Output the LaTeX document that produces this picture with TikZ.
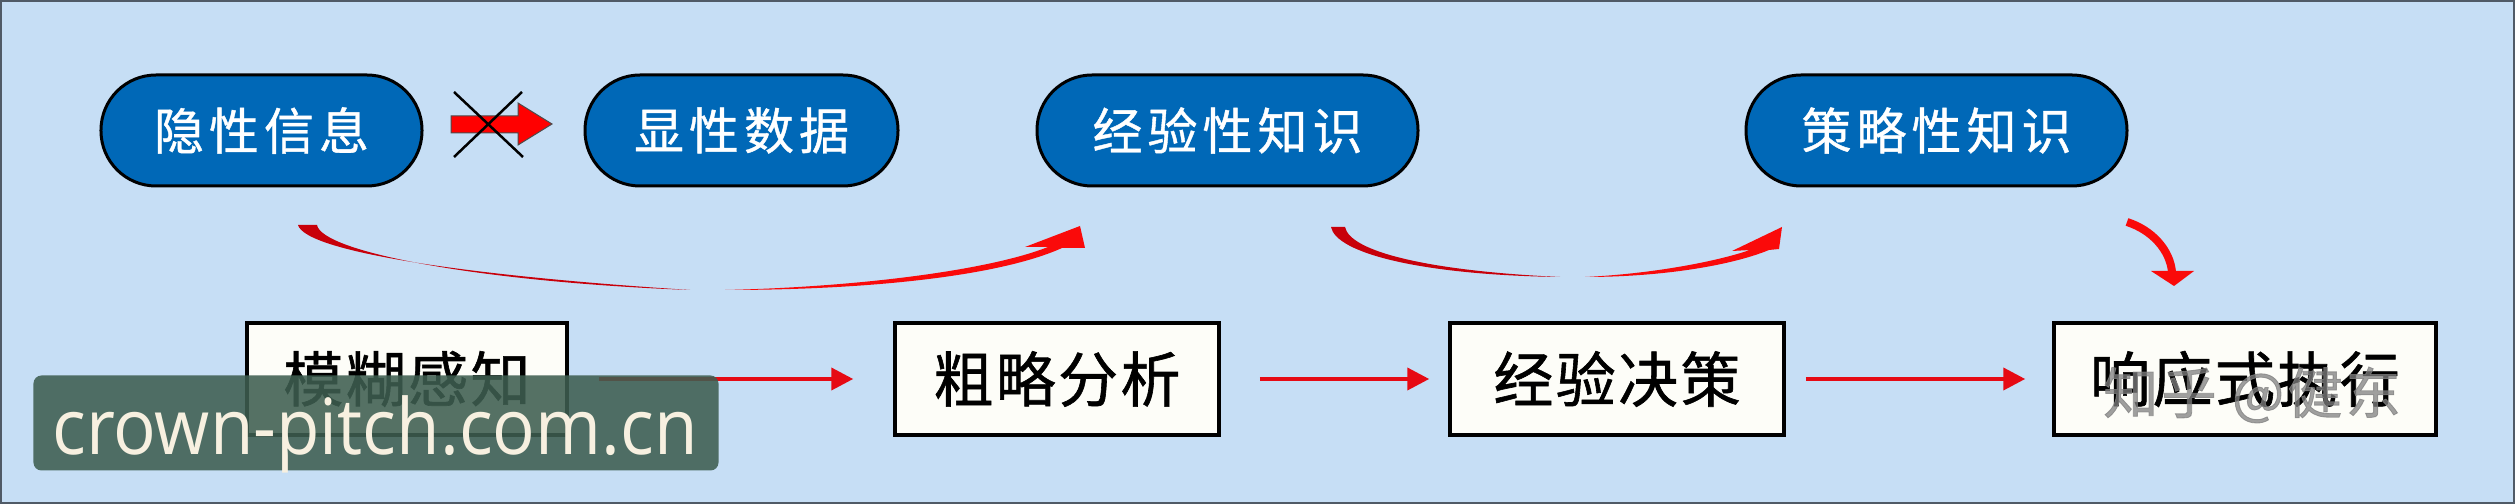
\documentclass[tikz,border=0pt]{standalone}
\usepackage{fontspec}
\usetikzlibrary{arrows.meta}
\setmainfont{Noto Sans CJK SC}
\newfontfamily\pillcjk[LetterSpace=10,FakeBold=0.8]{Noto Sans CJK SC}
\newfontfamily\boxcjk[LetterSpace=4,FakeBold=1]{Noto Sans CJK SC}
\newfontfamily\wmcjk[LetterSpace=6,FakeBold=1.5]{Noto Sans CJK SC}
\newfontfamily\wmlatin{Open Sans}
\definecolor{bgblue}{RGB}{198,222,245}
\definecolor{pillblue}{RGB}{0,104,183}
\definecolor{boxwhite}{RGB}{253,253,248}
\definecolor{linkred}{RGB}{230,10,20}
\definecolor{arcdark}{RGB}{200,0,10}
\definecolor{arcred}{RGB}{250,10,10}
\definecolor{wmgreen}{RGB}{62,94,80}
\definecolor{wmcream}{RGB}{247,240,224}
\definecolor{framegray}{RGB}{80,90,102}
\begin{document}
\begin{tikzpicture}[x=0.4pt,y=-0.4pt,
  pill/.style={draw=black, line width=1.2pt, fill=pillblue, rounded corners=22pt,
    minimum height=44.4pt, inner sep=0pt, text=white,
    font=\pillcjk\fontsize{20pt}{24pt}\selectfont},
  stepbox/.style={draw=black, line width=1.4pt, fill=boxwhite, minimum height=44.8pt,
    inner sep=0pt, text=black, font=\boxcjk\fontsize{24pt}{28pt}\selectfont},
  link/.style={draw=linkred, line width=1.6pt, -{Triangle[length=8.8pt,width=8.8pt]}},
]
\fill[bgblue] (0,0) rectangle (2515,504);
\useasboundingbox (0,0) rectangle (2515,504);
\draw[framegray, line width=0.8pt] (1,1) rectangle (2514,503);

% top pills
\node[pill, minimum width=128.4pt] (p1) at (261.5,130.5) {隐性信息};
\node[pill, minimum width=125.2pt] (p2) at (741.5,130.5) {显性数据};
\node[pill, minimum width=152.4pt] (p3) at (1227.5,130.5) {经验性知识};
\node[pill, minimum width=152.4pt] (p4) at (1936.5,130.5) {策略性知识};

% crossed block arrow
\filldraw[fill=red, draw=black!70, line width=0.4pt]
  (451,116) -- (518,116) -- (518,103) -- (552,124) -- (518,145) -- (518,133) -- (451,133) -- cycle;
\draw[black, line width=1pt] (454,92) -- (523,157) (522,92) -- (454,157);

% bottom boxes
\node[stepbox, minimum width=128pt] (b1) at (407,379) {模糊感知};
\node[stepbox, minimum width=129.6pt] (b2) at (1057,379) {粗略分析};
\node[stepbox, minimum width=133.6pt] (b3) at (1617,379) {经验决策};
\node[stepbox, minimum width=152.8pt] (b4) at (2245,379) {响应式执行};

% straight arrows
\draw[link, shorten <=12pt, shorten >=16pt] (b1.east) -- (b2.west);
\draw[link, shorten <=15.6pt, shorten >=7.6pt] (b2.east) -- (b3.west);
\draw[link, shorten <=8pt, shorten >=10.8pt] (b3.east) -- (b4.west);

% curved arrow 1
\fill[arcdark] (298,225) .. controls (306,252) and (470,276) .. (690,290)
  .. controls (480,282) and (322,252) .. (317,225) -- cycle;
\fill[arcred] (725,290) .. controls (870,290) and (1000,276) .. (1062,248)
  -- (1085,248) -- (1080,226) -- (1025,247) -- (1048,247)
  .. controls (990,270) and (860,287) .. (725,290) -- cycle;

% curved arrow 2
\fill[arcdark] (1331,227) .. controls (1336,253) and (1420,275) .. (1560,277)
  .. controls (1430,271) and (1350,252) .. (1345,227) -- cycle;
\fill[arcred] (1585,277) .. controls (1660,277) and (1730,266) .. (1769,250)
  -- (1779,249) -- (1782,227) -- (1732,251) -- (1750,250)
  .. controls (1715,262) and (1650,274) .. (1585,277) -- cycle;

% curved arrow down
\draw[arcred, line width=3.2pt] (2127,222) .. controls (2152,230) and (2170,250) .. (2172,272);
\fill[arcred] (2151,271) -- (2194,271) -- (2174,286) -- cycle;

% watermarks
\node[fill=wmgreen, fill opacity=0.88, rounded corners=3.2pt, minimum width=274pt,
  minimum height=38pt, inner sep=0pt] (wm) at (376,423) {};
\node[anchor=base, text=wmcream, inner sep=0pt,
  font=\wmlatin\fontsize{31pt}{34pt}\selectfont] (wmt) at (375,455)
  {\scalebox{0.915}[1]{crown-pitch.com.cn}};
\node[text=gray, text opacity=0.75, inner sep=0pt,
  font=\wmcjk\fontsize{22pt}{26pt}\selectfont] (zh) at (2252,395) {知乎 @健东};
\end{tikzpicture}
\end{document}
